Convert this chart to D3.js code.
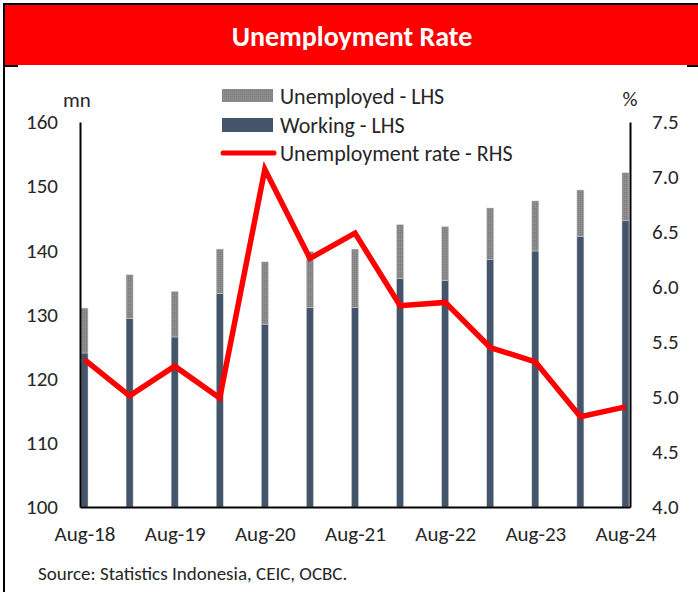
<!DOCTYPE html>
<html>
<head>
<meta charset="utf-8">
<script src="https://cdn.jsdelivr.net/npm/d3@7/dist/d3.min.js"></script>
<style>
  html, body { margin: 0; padding: 0; background: #fff; }
  svg { display: block; }
  text { font-family: Carlito, Calibri, Lato, "Open Sans", sans-serif; fill: #262626; }
</style>
</head>
<body>
<svg id="chart" width="698" height="592"></svg>
<script>
// Survey rounds (Feb / Aug), millions of people and % rate
const periods = ["Aug-18", "Feb-19", "Aug-19", "Feb-20", "Aug-20", "Feb-21", "Aug-21",
                 "Feb-22", "Aug-22", "Feb-23", "Aug-23", "Feb-24", "Aug-24"];
const working    = [124.0, 129.4, 126.5, 133.3, 128.5, 131.1, 131.1, 135.6, 135.3, 138.6, 139.9, 142.2, 144.6];
const unemployed = [7.0, 6.8, 7.1, 6.9, 9.7, 8.7, 9.1, 8.4, 8.4, 8.0, 7.8, 7.2, 7.5];
const unemploymentRate = [5.34, 5.01, 5.28, 4.99, 7.07, 6.26, 6.49, 5.83, 5.86, 5.45, 5.32, 4.82, 4.91];

const xTickLabels = ["Aug-18", "Aug-19", "Aug-20", "Aug-21", "Aug-22", "Aug-23", "Aug-24"];
const leftTicks  = [100, 110, 120, 130, 140, 150, 160];
const rightTicks = [4.0, 4.5, 5.0, 5.5, 6.0, 6.5, 7.0, 7.5];

const seriesNames = {
  unemployed: "Unemployed - LHS",
  working: "Working - LHS",
  rate: "Unemployment rate - RHS"
};

const colors = { working: "#44546A", unemployed: "#888888", rate: "#FF0000" };
const fontStack = "Carlito, Calibri, Lato, 'Open Sans', sans-serif";

const svg = d3.select("#chart");

// ---- frame and title banner ----
svg.append("rect").attr("x", 0).attr("y", 0).attr("width", 698).attr("height", 592).attr("fill", "#fff");
svg.append("rect").attr("x", 3).attr("y", 3).attr("width", 695).attr("height", 2).attr("fill", "#000");
svg.append("rect").attr("x", 3).attr("y", 3).attr("width", 2).attr("height", 589).attr("fill", "#000");
svg.append("rect").attr("x", 5).attr("y", 5).attr("width", 693).attr("height", 60).attr("fill", "#FF0000");
svg.append("rect").attr("x", 5).attr("y", 65).attr("width", 13).attr("height", 2).attr("fill", "#000");
svg.append("rect").attr("x", 687).attr("y", 65).attr("width", 11).attr("height", 2).attr("fill", "#000");

svg.append("text")
  .attr("x", 352).attr("y", 36)
  .attr("text-anchor", "middle").attr("dominant-baseline", "central")
  .style("font-size", "28px").style("font-weight", "bold").style("fill", "#fff")
  .text("Unemployment Rate");

// ---- scales ----
const plot = { left: 80, right: 630, top: 122, bottom: 507 };

const x = d3.scalePoint().domain(periods).range([plot.left, plot.right]).padding(0.1);
const yL = d3.scaleLinear().domain([100, 160]).range([plot.bottom, plot.top]);
const yR = d3.scaleLinear().domain([4.0, 7.5]).range([plot.bottom, plot.top]);

// fine grain texture for the unemployed segment
const defs = svg.append("defs");
const pat = defs.append("pattern").attr("id", "grain").attr("patternUnits", "userSpaceOnUse")
  .attr("width", 2).attr("height", 2);
pat.append("rect").attr("width", 2).attr("height", 2).attr("fill", colors.unemployed);
pat.append("rect").attr("width", 1).attr("height", 1).attr("fill", "#7E7E7E");
pat.append("rect").attr("x", 1).attr("y", 1).attr("width", 1).attr("height", 1).attr("fill", "#929292");

// ---- stacked bars ----
const rows = periods.map((p, i) => ({ period: p, working: working[i], unemployed: unemployed[i] }));
const stacked = d3.stack().keys(["working", "unemployed"])(rows);
const barW = 7;

svg.append("g").selectAll("g")
  .data(stacked)
  .join("g")
  .attr("fill", d => d.key === "working" ? colors.working : "url(#grain)")
  .selectAll("rect")
  .data(d => d)
  .join("rect")
  .attr("x", d => x(d.data.period) - barW / 2)
  .attr("width", barW)
  .attr("y", d => yL(d[1]))
  .attr("height", d => yL(Math.max(d[0], 100)) - yL(d[1]))
  .attr("stroke", "#D0D4DA").attr("stroke-width", 0.5);

// ---- axes ----
const axisL = svg.append("g").attr("transform", `translate(${plot.left},0)`)
  .call(d3.axisLeft(yL).tickValues(leftTicks).tickSize(0).tickPadding(22).tickFormat(d3.format("d")));
const axisR = svg.append("g").attr("transform", `translate(${plot.right},0)`)
  .call(d3.axisRight(yR).tickValues(rightTicks).tickSize(0).tickPadding(22).tickFormat(d3.format(".1f")));
const axisB = svg.append("g").attr("transform", `translate(0,${plot.bottom})`)
  .call(d3.axisBottom(x).tickValues(xTickLabels).tickSize(0).tickPadding(19));

[axisL, axisR, axisB].forEach(g => {
  g.select(".domain").attr("stroke", "#000").attr("stroke-width", 2);
  g.selectAll("text").style("font-size", "21px").attr("fill", "#262626")
    .style("font-family", fontStack);
});

// ---- rate line (right axis) ----
const line = d3.line().x((d, i) => x(periods[i])).y(d => yR(d));
svg.append("path")
  .datum(unemploymentRate)
  .attr("d", line)
  .attr("fill", "none")
  .attr("stroke", colors.rate)
  .attr("stroke-width", 5.5)
  .attr("stroke-linejoin", "miter");

// ---- unit labels ----
svg.append("text").attr("x", 77).attr("y", 100).attr("text-anchor", "middle")
  .attr("dominant-baseline", "central").style("font-size", "21px").text("mn");
svg.append("text").attr("x", 630).attr("y", 99).attr("text-anchor", "middle")
  .attr("dominant-baseline", "central").style("font-size", "21px").text("%");

// ---- legend ----
const lg = svg.append("g");
lg.append("rect").attr("x", 222).attr("y", 89).attr("width", 51).attr("height", 13).attr("fill", "url(#grain)");
lg.append("rect").attr("x", 222).attr("y", 118).attr("width", 51).attr("height", 14).attr("fill", colors.working);
lg.append("line").attr("x1", 223).attr("x2", 274).attr("y1", 153).attr("y2", 153)
  .attr("stroke", colors.rate).attr("stroke-width", 5).attr("stroke-linecap", "round");
[[seriesNames.unemployed, 96], [seriesNames.working, 125], [seriesNames.rate, 153]].forEach(([t, yy]) => {
  lg.append("text").attr("x", 280).attr("y", yy).attr("dominant-baseline", "central")
    .style("font-size", "22px").text(t);
});

// ---- source note ----
svg.append("text").attr("x", 38).attr("y", 573).attr("dominant-baseline", "central")
  .style("font-size", "19px").text("Source: Statistics Indonesia, CEIC, OCBC.");
</script>
</body>
</html>
